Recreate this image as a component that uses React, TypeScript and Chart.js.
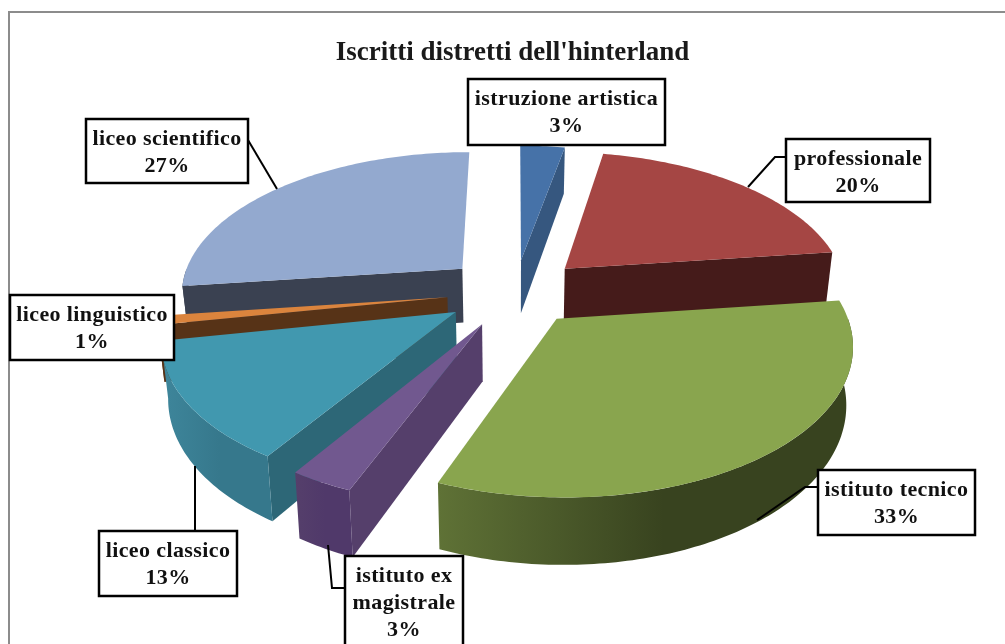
import React, { useEffect, useRef } from "react";
import { Chart, registerables } from "chart.js";

Chart.register(...registerables);

const categories = [
  "istruzione artistica",
  "professionale",
  "istituto tecnico",
  "istituto ex magistrale",
  "liceo classico",
  "liceo linguistico",
  "liceo scientifico",
];
const values = [3, 20, 33, 3, 13, 1, 27];
const explode = [66, 70, 66, 70, 70, 68, 72];
const topColors = ["#4672A8", "#A54644", "#89A54E", "#71588F", "#4198AF", "#DB843D", "#93A9CF"];
const sideColors = ["#36577F", "#451B1A", "#3A4520", "#553F6B", "#2D6777", "#573317", "#3A4151"];
const wallLight = ["#36577F", "#451B1A", "#5F7236", "#553F6B", "#3E869B", "#573317", "#3A4151"];
const wallDark = ["#36577F", "#451B1A", "#38431F", "#50396A", "#36788C", "#573317", "#3A4151"];
const labelLines = [
  ["istruzione artistica"],
  ["professionale"],
  ["istituto tecnico"],
  ["istituto ex", "magistrale"],
  ["liceo classico"],
  ["liceo linguistico"],
  ["liceo scientifico"],
];
const labelBoxes = [
  [468, 79, 197, 66],
  [786, 139, 144, 63],
  [818, 470, 157, 65],
  [345, 556, 118, 100],
  [99, 531, 138, 65],
  [10, 295, 164, 65],
  [86, 119, 162, 64],
];
const leaders = [
  [],
  [[786, 157], [775, 157], [748, 187]],
  [[818, 487], [805, 487], [757, 520]],
  [[345, 588], [332, 588], [328, 545]],
  [[195, 531], [195, 466]],
  [],
  [[248, 140], [277, 189]],
];

const CX = 515;
const CY = 292;
const R = 283;
const TILT = 0.5;
const DEPTH = 55;
const PERSP_Y = 0.00055;
const PERSP_Z = 0.00036;
const FONT = '"Liberation Serif", serif';

function project(x: number, y: number, z: number) {
  const w = 1 / (1 - PERSP_Y * y);
  return [CX + x * w * (1 + PERSP_Z * z), CY + (TILT * y - z) * w];
}

const pie3d = {
  id: "pie3d",
  beforeDraw(chart: any) {
    const ctx = chart.ctx;
    ctx.save();
    ctx.fillStyle = "#fff";
    ctx.fillRect(0, 0, chart.width, chart.height);
    ctx.strokeStyle = "#8C8C8C";
    ctx.lineWidth = 2;
    ctx.beginPath();
    ctx.moveTo(9, chart.height);
    ctx.lineTo(9, 12);
    ctx.lineTo(chart.width, 12);
    ctx.stroke();
    ctx.restore();
  },
  beforeDatasetsDraw(chart: any) {
    const ctx = chart.ctx;
    const arcs = chart.getDatasetMeta(0).data as any[];
    const order = arcs
      .map((_, i) => i)
      .sort((p, q) => {
        const mp = (arcs[p].startAngle + arcs[p].endAngle) / 2;
        const mq = (arcs[q].startAngle + arcs[q].endAngle) / 2;
        return Math.sin(mp) - Math.sin(mq);
      });
    for (const i of order) {
      const arc = arcs[i];
      const scale = R / arc.outerRadius;
      const a0 = arc.startAngle;
      const a1 = arc.endAngle;
      const mid = (a0 + a1) / 2;
      const off = arc.options.offset;
      const ox = off * Math.cos(mid);
      const oy = off * Math.sin(mid);
      const rad = arc.outerRadius * scale;
      const pt = (a: number, z: number, r = rad) =>
        project(ox + r * Math.cos(a), oy + r * Math.sin(a), z);
      const poly = (pts: number[][], fill: any) => {
        ctx.beginPath();
        pts.forEach((p, k) => (k ? ctx.lineTo(p[0], p[1]) : ctx.moveTo(p[0], p[1])));
        ctx.closePath();
        ctx.fillStyle = fill;
        ctx.fill();
      };
      const arcPts = (from: number, to: number, z: number) => {
        const n = Math.max(2, Math.ceil(Math.abs(to - from) * 60));
        const list: number[][] = [];
        for (let k = 0; k <= n; k++) list.push(pt(from + ((to - from) * k) / n, z));
        return list;
      };
      const apexTop = project(ox, oy, 0);
      const apexBot = project(ox, oy, -DEPTH);
      if (Math.cos(a0) < 0) {
        poly([apexTop, pt(a0, 0), pt(a0, -DEPTH), apexBot], sideColors[i]);
      }
      if (Math.cos(a1) > 0) {
        poly([apexTop, pt(a1, 0), pt(a1, -DEPTH), apexBot], sideColors[i]);
      }
      const from = Math.max(a0, 0);
      const to = Math.min(a1, Math.PI);
      if (to > from) {
        const left = pt(to, 0)[0];
        const right = pt(from, 0)[0];
        const grad = ctx.createLinearGradient(left, 0, Math.max(left + 1, left + (right - left) * 0.55), 0);
        grad.addColorStop(0, wallLight[i]);
        grad.addColorStop(1, wallDark[i]);
        poly([...arcPts(from, to, 0), ...arcPts(to, from, -DEPTH)], grad);
      }
      poly([apexTop, ...arcPts(a0, a1, 0)], topColors[i]);
    }
    return false;
  },
  afterDraw(chart: any) {
    const ctx = chart.ctx;
    ctx.save();
    ctx.strokeStyle = "#000";
    ctx.lineWidth = 2;
    leaders.forEach((line) => {
      if (!line.length) return;
      ctx.beginPath();
      line.forEach((p, k) => (k ? ctx.lineTo(p[0], p[1]) : ctx.moveTo(p[0], p[1])));
      ctx.stroke();
    });
    ctx.textAlign = "center";
    ctx.textBaseline = "middle";
    ctx.font = `bold 22px ${FONT}`;
    (ctx as any).letterSpacing = "0.4px";
    categories.forEach((_, i) => {
      const [x, y, w, h] = labelBoxes[i];
      ctx.fillStyle = "#fff";
      ctx.fillRect(x, y, w, h);
      ctx.strokeStyle = "#000";
      ctx.lineWidth = 2.5;
      ctx.strokeRect(x, y, w, h);
      ctx.fillStyle = "#111";
      const lines = [...labelLines[i], `${values[i]}%`];
      lines.forEach((t, k) => ctx.fillText(t, x + w / 2, y + 20 + k * 27));
    });
    ctx.restore();
  },
};

export default function App() {
  const ref = useRef<HTMLCanvasElement>(null);
  useEffect(() => {
    document.body.style.margin = "0";
    const chart = new Chart(ref.current!, {
      type: "pie",
      data: {
        labels: categories,
        datasets: [{ data: values, backgroundColor: topColors, offset: explode, borderWidth: 0 }],
      },
      options: {
        animation: false,
        responsive: false,
        devicePixelRatio: 1,
        layout: { padding: { top: 4, left: 20 } },
        plugins: {
          legend: { display: false },
          tooltip: { enabled: false },
          title: {
            display: true,
            text: "Iscritti distretti dell'hinterland",
            color: "#1a1a1a",
            font: { family: FONT, size: 27, weight: "bold" },
            padding: { top: 33, bottom: 0 },
          },
        },
      },
      plugins: [pie3d],
    } as any);
    return () => chart.destroy();
  }, []);
  return (
    <div style={{ position: "absolute", left: 0, top: 0, width: 1005, height: 644, overflow: "hidden" }}>
      <canvas ref={ref} width={1005} height={644} style={{ display: "block", filter: "blur(0.5px)" }} />
    </div>
  );
}
